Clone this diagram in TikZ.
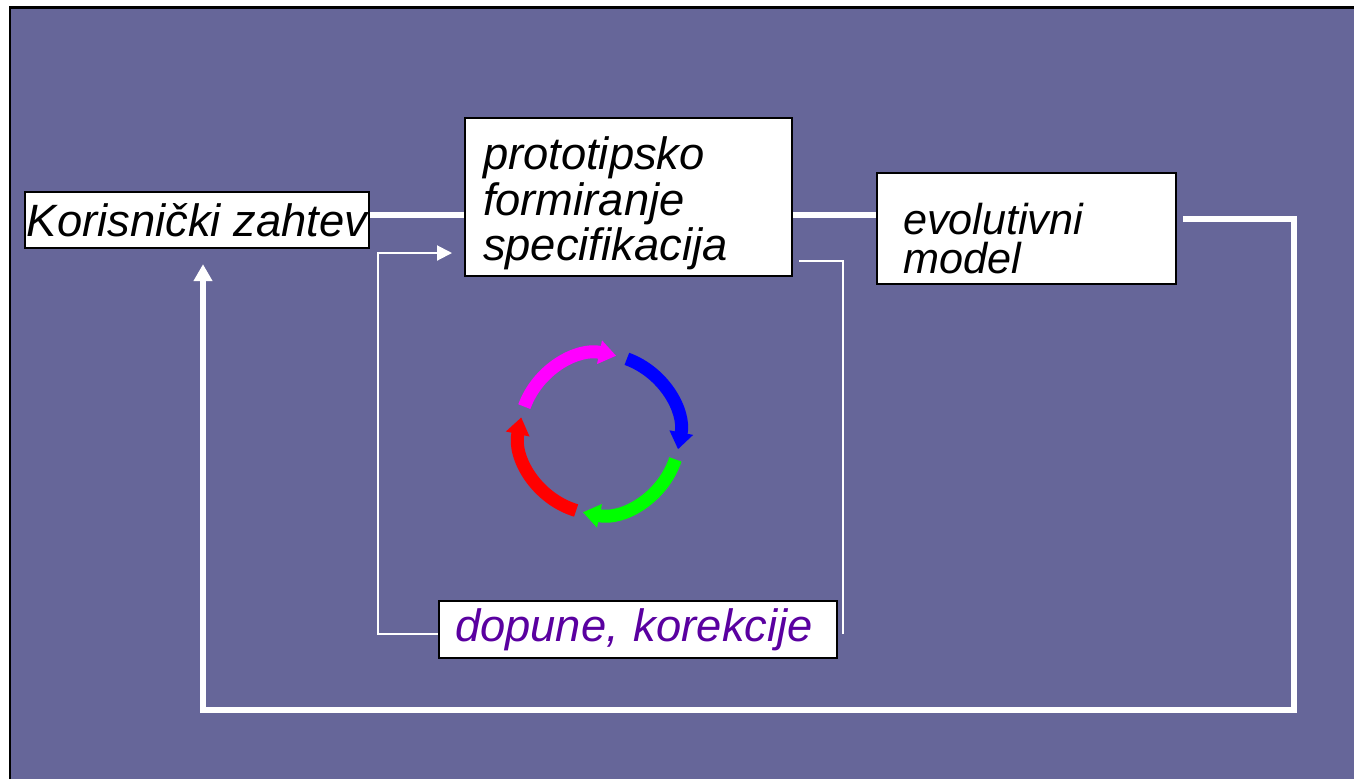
\documentclass[tikz,border=0pt]{standalone}
\usepackage{fontspec}
\setmainfont{Liberation Sans}
\usetikzlibrary{arrows.meta,calc,positioning}
\definecolor{slide}{RGB}{102,102,153}
\definecolor{ljub}{RGB}{90,0,160}
\definecolor{roza}{RGB}{255,0,255}
\definecolor{plava}{RGB}{0,0,255}
\definecolor{zelena}{RGB}{0,255,0}
\definecolor{crvena}{RGB}{255,0,0}
\tikzset{
         blok/.style=
          {
           rectangle,draw=black,line width=1.3pt,fill=white,
           font=\itshape\fontsize{25.8pt}{25.9pt}\selectfont
          },
         debela/.style={draw=white,line width=0.12cm},
         tanka/.style={draw=white,line width=0.04cm},
         krug/.style={line width=0.26cm}
        }

\begin{document}
\begin{tikzpicture}[x=0.02cm,y=-0.02cm]
\useasboundingbox(0,0)rectangle(1354,779);
\fill[white](0,0)rectangle(1354,779);
\fill[slide](9,6)rectangle(1354,779);
\draw[line width=1.7pt](10,779)--(10,7)--(1354,7);
%blocks
\node[blok,minimum width=6.88cm,minimum height=1.12cm,inner sep=1pt](kz)at(197,220){Korisnički zahtev};
\node[blok,text width=5.82cm,inner xsep=0.36cm,minimum height=3.16cm,align=left](proto)at(628.5,197)
 {\rule{0pt}{0.92cm}prototipsko\\formiranje\\specifikacija};
\node[blok,text width=4.94cm,inner xsep=0.52cm,minimum height=2.22cm,align=left,
 font=\itshape\fontsize{24.6pt}{22.4pt}\selectfont](evo)at(1026.5,228.5)
 {\rule{0pt}{1.02cm}evolutivni\\model};
\node[blok,text width=7.32cm,inner xsep=0.32cm,minimum height=1.14cm,align=left,text=ljub](dop)at(638,629.5)
 {dopune, korekcije};
%main line
\coordinate(hl)at(0,215);
\draw[debela](kz.east|-hl)--(proto.west|-hl);
\draw[debela](proto.east|-hl)--(evo.west|-hl);
%feedback
\coordinate(fb)at(1294,710);
\draw[debela,-{Triangle[width=0.36cm,length=0.34cm]}]($(evo.east)+(6,-9.5)$)-|(fb)-|($(kz.south)+(6,15)$);
\coordinate(ul)at(452,253);
\draw[tanka]($(proto.south east)+(6,-16)$)-|($(dop.east)+(5,4)$);
\draw[tanka,-{Triangle[width=0.3cm,length=0.3cm]}]($(dop.west)+(0,4.5)$)-|($(ul)+(-74,0)$)--(ul);
%ring
\coordinate(c)at(599.5,434);
\begin{scope}[shift={(c)},x=0.02cm,y=0.02cm]
\draw[krug,roza,-{Triangle[width=0.46cm,length=0.34cm]}](160:80)arc[start angle=160,end angle=78,radius=80];
\draw[krug,plava,-{Triangle[width=0.46cm,length=0.34cm]}](70:80)arc[start angle=70,end angle=-11,radius=80];
\draw[krug,zelena,-{Triangle[width=0.46cm,length=0.34cm]}](-18.5:80)arc[start angle=-18.5,end angle=-102,radius=80];
\draw[krug,crvena,-{Triangle[width=0.46cm,length=0.34cm]}](-107:80)arc[start angle=-107,end angle=-192,radius=80];
\end{scope}
\end{tikzpicture}
\end{document}
